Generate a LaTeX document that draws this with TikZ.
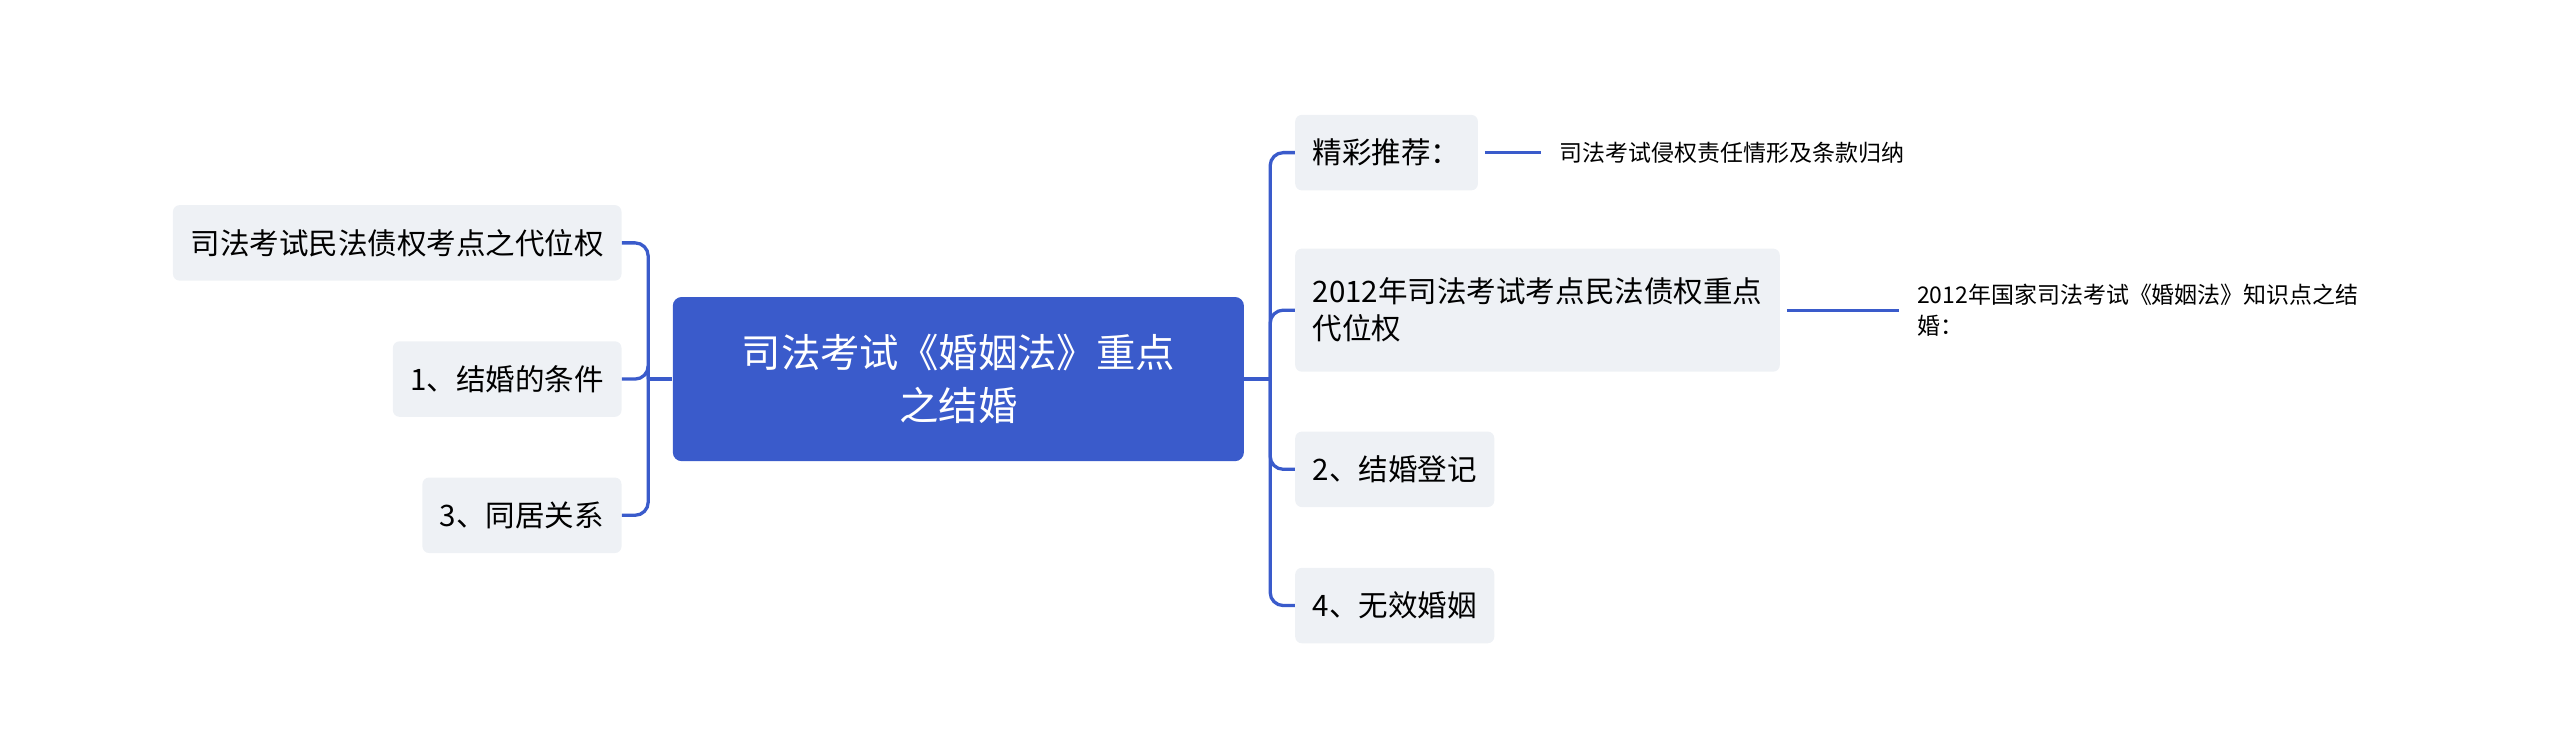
\documentclass[tikz,border=0pt]{standalone}
\usepackage{fontspec}
\setmainfont{Noto Sans CJK SC}
\usetikzlibrary{positioning}
\definecolor{linkblue}{HTML}{3A5BCB}
\definecolor{topicgray}{HTML}{EEF1F5}
\begin{document}
\begin{tikzpicture}[
		x=0.75pt,
		y=-0.75pt,
		topic/.style={fill=topicgray, rounded corners=3, inner sep=0, anchor=west},
		leaf/.style={inner sep=0, anchor=west, font=\fontsize{10.5pt}{14pt}\selectfont, align=left},
		link/.style={draw=linkblue, line width=1.5, rounded corners=6}
	]
		\useasboundingbox (0,0) rectangle (1560,460);

		% central topic
		\node[fill=linkblue, rounded corners=4, minimum width=348*0.75pt, minimum height=100*0.75pt,
			text=white, align=center, font=\fontsize{18pt}{24pt}\selectfont] (root) at (584,231)
			{司法考试《婚姻法》重点\\之结婚};

		% left branches
		\tikzset{lefttopic/.style={fill=topicgray, rounded corners=3, anchor=east, minimum height=46*0.75pt,
			inner xsep=8pt, font=\fontsize{13.5pt}{17pt}\selectfont}}
		\node[lefttopic] (daiwei) at (379,148) {司法考试民法债权考点之代位权};
		\node[lefttopic] (tiaojian) at (379,231) {1、结婚的条件};
		\node[lefttopic] (tongju) at (379,314) {3、同居关系};

		% right branches
		\tikzset{righttopic/.style={fill=topicgray, rounded corners=3, anchor=west, minimum height=46*0.75pt,
			inner xsep=8pt, font=\fontsize{13.5pt}{17pt}\selectfont, align=left}}
		\node[righttopic] (tuijian) at (789,93) {精彩推荐：};
		\node[righttopic, minimum height=75*0.75pt] (kaodian) at (789,189) {2012年司法考试考点民法债权重点\\代位权};
		\node[righttopic] (dengji) at (789,286) {2、结婚登记};
		\node[righttopic] (wuxiao) at (789,369) {4、无效婚姻};

		% leaves
		\node[leaf] (qinquan) at (950,93) {司法考试侵权责任情形及条款归纳};
		\node[leaf] (guojia) at (1168,189) {2012年国家司法考试《婚姻法》知识点之结\\婚：};

		% connectors
		\coordinate (ltrunk) at (395,231);
		\draw[link] (root.west) -- (ltrunk);
		\foreach \n in {daiwei,tiaojian,tongju}
			\draw[link] (ltrunk) |- (\n.east);
		\coordinate (rtrunk) at (774,231);
		\draw[link] (root.east) -- (rtrunk);
		\foreach \n in {tuijian,kaodian,dengji,wuxiao}
			\draw[link] (rtrunk) |- (\n.west);
		\draw[link] (tuijian.east) ++(4,0) -- ([xshift=-8]qinquan.west);
		\draw[link] (kaodian.east) ++(4,0) -- ([xshift=-8]guojia.west);
	\end{tikzpicture}
\end{document}
